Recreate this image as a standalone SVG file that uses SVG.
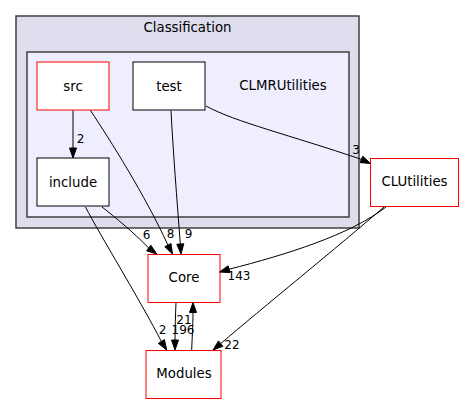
<svg xmlns="http://www.w3.org/2000/svg" width="464" height="404" viewBox="0 0 464 404">
<style>
text{font-family:"DejaVu Sans","Liberation Sans",sans-serif;font-size:13.3px;fill:#000;text-anchor:middle}
.edge text{font-size:12px}
.box{fill:#fff;stroke:#000;stroke-width:1}
.red{fill:#fff;stroke:#ff0000;stroke-width:1}
.edge path{fill:none;stroke:#000;stroke-width:1}
.edge polygon{fill:#000;stroke:#000;stroke-width:1}
</style>
<rect width="464" height="404" fill="#fff"/>
<g id="cluster_Classification">
<rect x="16" y="16" width="343" height="212" fill="#ddddee" stroke="#404040" stroke-width="1.5"/>
<text x="187.5" y="32">Classification</text>
</g>
<g id="cluster_CLMRUtilities">
<rect x="27" y="52" width="322" height="165" fill="#eeeeff" stroke="#404040" stroke-width="1.5"/>
<text x="283" y="89.5">CLMRUtilities</text>
</g>
<g id="node_src"><rect class="red" x="37" y="62" width="72" height="48"/><text x="73" y="90.5">src</text></g>
<g id="node_test"><rect class="box" x="133" y="62" width="72" height="48"/><text x="169" y="90.5">test</text></g>
<g id="node_include"><rect class="box" x="37" y="158" width="72" height="48"/><text x="73" y="186.5">include</text></g>
<g id="node_Core"><rect class="red" x="148" y="254.5" width="72" height="48"/><text x="184" y="282">Core</text></g>
<g id="node_Modules"><rect class="red" x="146" y="350.5" width="75" height="48"/><text x="184" y="378">Modules</text></g>
<g id="node_CLUtilities"><rect class="red" x="370.5" y="158.5" width="88" height="48"/><text x="414.5" y="186">CLUtilities</text></g>
<g id="connectors" class="edge">
<path d="M73,110.5 L73,148"/><polygon points="69.5,148 73,158 76.5,148"/><text x="80.5" y="143">2</text>
<path d="M90.5,110.5 C110,140 145,195 167.9,245.1"/><polygon points="171,243.5 172.5,254 164.8,246.7"/><text x="170.5" y="238">8</text>
<path d="M171,110.5 C173,150 177,200 180.3,244"/><polygon points="183.8,243.8 181,254 176.8,244.2"/><text x="188.5" y="238">9</text>
<path d="M102,207 C115,217 132,231 148.7,248"/><polygon points="150.8,245.2 156.7,254 146.6,250.8"/><text x="146.5" y="239">6</text>
<path d="M85.5,207 C100,235 140,300 161.4,341.5"/><polygon points="164.4,339.6 166.7,350 158.4,343.4"/><text x="162.5" y="334">2</text>
<path d="M206,106 C235,122 290,135 361.4,159.4"/><polygon points="362.8,156.2 370.5,163.5 360,162.6"/><text x="356" y="154">3</text>
<path d="M386,207 C350,235 285,255 229.1,269.2"/><polygon points="230.1,272.6 219.5,272 228.1,265.8"/><text x="239" y="280">143</text>
<path d="M384,207 C340,245 260,310 220.7,343.6"/><polygon points="222.9,346.3 213,350 218.5,340.9"/><text x="232" y="349">22</text>
<path d="M176,302.5 C175.5,315 175,328 175,340"/><polygon points="171.5,340 175,350 178.5,340"/><text x="183" y="334">196</text>
<path d="M191.7,350 C192,340 193,325 193,312.5"/><polygon points="196.5,312.5 193,302.5 189.5,312.5"/><text x="184" y="324">21</text>
</g>
</svg>
